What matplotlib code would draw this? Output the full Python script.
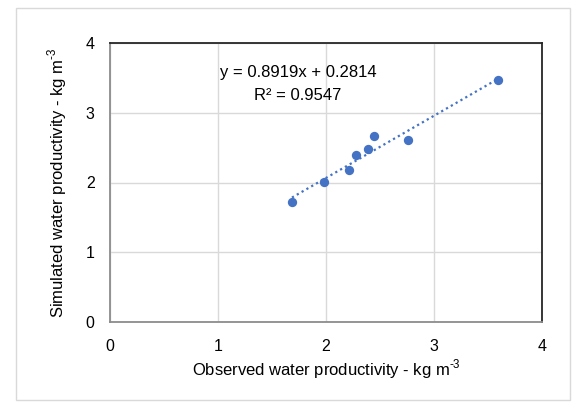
import matplotlib.pyplot as plt
from matplotlib.patches import Rectangle
import numpy as np

plt.rcParams['font.family'] = ['Liberation Sans', 'DejaVu Sans']
plt.rcParams['mathtext.fontset'] = 'custom'
plt.rcParams['mathtext.rm'] = 'Liberation Sans'

# observed vs simulated water productivity (kg m-3)
observed = [1.685, 1.98, 2.21, 2.28, 2.385, 2.44, 2.755, 3.595]
simulated = [1.725, 2.005, 2.175, 2.40, 2.475, 2.67, 2.61, 3.47]

slope = 0.8919
intercept = 0.2814
r2 = 0.9547

blue = '#4472C4'

fig = plt.figure(figsize=(5.73, 4.05), dpi=100)
ax = fig.add_axes([110 / 573, 1 - 322 / 405, 432 / 573, 279 / 405])

# outer chart border
fig.patches.append(Rectangle((16 / 573, 5 / 405), 554 / 573, 392 / 405,
                             transform=fig.transFigure, fill=False,
                             edgecolor='#d9d9d9', linewidth=1))

ax.scatter(observed, simulated, s=45, color=blue, zorder=3, linewidths=0)

xs = np.array([min(observed), max(observed)])
ax.plot(xs, slope * xs + intercept, linestyle=(0, (1, 1.5)), color=blue,
        linewidth=1.6, zorder=2)

ax.text(1.74, 3.57, f'y = {slope}x + {intercept}', ha='center',
        va='center', fontsize=12)
ax.text(1.74, 3.25, f'R² = {r2}', ha='center', va='center',
        fontsize=12)

ax.set_xlim(0, 4)
ax.set_ylim(0, 4)
ax.set_xticks([0, 1, 2, 3, 4])
ax.set_yticks([0, 1, 2, 3, 4])
ax.grid(True, color='#d9d9d9', linewidth=1)
ax.set_axisbelow(True)
ax.tick_params(length=0, labelsize=11.5)
ax.tick_params(axis='x', pad=12)
ax.tick_params(axis='y', pad=11)
for side in ['top', 'right']:
    ax.spines[side].set_color('#262626')
for side in ['left', 'bottom']:
    ax.spines[side].set_color('#8c8c8c')
for s in ax.spines.values():
    s.set_linewidth(1.3)

ax.set_xlabel(r'Observed water productivity - kg m$^{\text{-3}}$', fontsize=12,
              labelpad=3)
ax.set_ylabel(r'Simulated water productivity - kg m$^{\text{-3}}$', fontsize=12,
              labelpad=12)

fig.savefig('out.png', dpi=100)
